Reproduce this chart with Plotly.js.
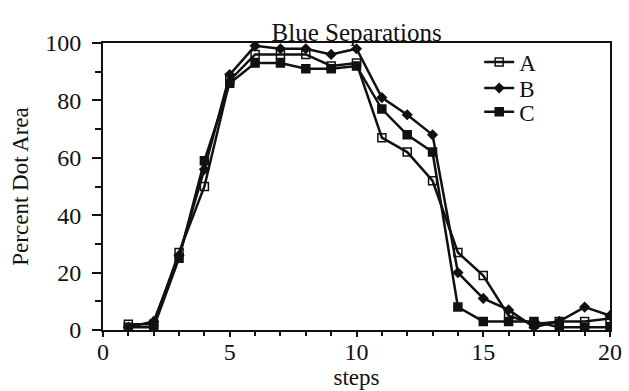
<!DOCTYPE html>
<html>
<head>
<meta charset="utf-8">
<script src="https://cdn.plot.ly/plotly-3.0.1.min.js"></script>
<style>html,body{margin:0;padding:0;background:#fff;}#chart{width:629px;height:391px;}</style>
</head>
<body>
<div id="chart"></div>
<script>
const steps = [1,2,3,4,5,6,7,8,9,10,11,12,13,14,15,16,17,18,19,20];
const seriesA = [2,2,27,50,87,96,96,96,92,93,67,62,52,27,19,5,2,3,3,4];
const seriesB = [1,3,26,56,89,99,98,98,96,98,81,75,68,20,11,7,1,3,8,5];
const seriesC = [1,1,25,59,86,93,93,91,91,92,77,68,62,8,3,3,3,1,1,1];
const names = ['A','B','C'];

const font = 'Liberation Serif, Times New Roman, serif';
const mk = (name, y, symbol, size, leg) => ({
  x: steps, y: y, name: name, type: 'scatter', mode: 'lines+markers', legend: leg,
  line: {color: '#111', width: 2.5},
  marker: {symbol: symbol, size: size, color: '#111', line: {color: '#111', width: 1.5}}
});
const data = [
  mk(names[0], seriesA, 'square-open', 8, 'legend'),
  mk(names[1], seriesB, 'diamond', 7, 'legend2'),
  mk(names[2], seriesC, 'square', 8, 'legend3')
];
const legBase = (y) => ({x: 0.742, y: y, xanchor: 'left', yanchor: 'middle', bgcolor: 'rgba(0,0,0,0)',
  font: {family: font, size: 23, color: '#111'}, itemwidth: 30});
const layout = {
  width: 629, height: 391,
  margin: {l: 103, r: 19, t: 43, b: 61},
  paper_bgcolor: '#fff', plot_bgcolor: '#fff',
  font: {family: font, color: '#111', size: 24},
  title: {text: 'Blue Separations', x: 0.567, xanchor: 'center', y: 0.918, yanchor: 'middle', font: {family: font, size: 25, color: '#111'}},
  showlegend: true,
  legend: legBase(0.934),
  legend2: legBase(0.843),
  legend3: legBase(0.760),
  xaxis: {
    range: [0, 20], dtick: 5, tick0: 0, ticks: 'outside', ticklen: 5, tickwidth: 2, tickcolor: '#111',
    showline: true, linewidth: 2, linecolor: '#111', mirror: true, showgrid: false, zeroline: false,
    minor: {dtick: 1, ticks: 'outside', ticklen: 4, tickwidth: 2, tickcolor: '#111', showgrid: false},
    tickfont: {family: font, size: 24, color: '#111'}, ticklabelstandoff: -6,
    title: {text: 'steps', font: {family: font, size: 23, color: '#111'}, standoff: 0}
  },
  yaxis: {
    range: [0, 100], dtick: 20, tick0: 0, ticks: 'outside', ticklen: 9, tickwidth: 2, tickcolor: '#111',
    showline: true, linewidth: 2, linecolor: '#111', mirror: true, showgrid: false, zeroline: false,
    minor: {dtick: 10, ticks: 'outside', ticklen: 6, tickwidth: 2, tickcolor: '#111', showgrid: false},
    tickfont: {family: font, size: 24, color: '#111'}, ticklabelstandoff: 6,
    title: {text: 'Percent Dot Area', font: {family: font, size: 23, color: '#111'}, standoff: 10}
  }
};
Plotly.newPlot('chart', data, layout, {displayModeBar: false, staticPlot: true});
</script>
</body>
</html>
